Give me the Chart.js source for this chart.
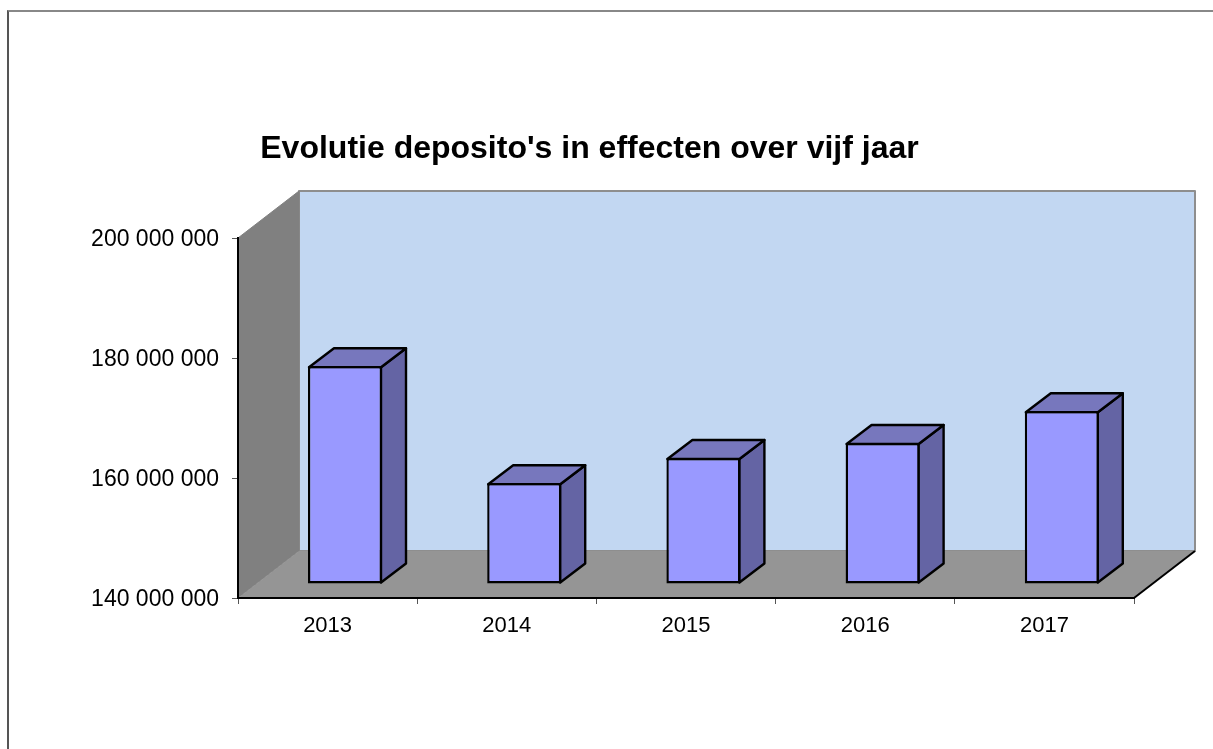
<!DOCTYPE html>
<html lang="nl">
<head>
    <meta charset="UTF-8">
    <title>Evolutie deposito's in effecten over vijf jaar</title>
    <script src="https://cdn.jsdelivr.net/npm/chart.js"></script>
    <style>
        html, body {
            margin: 0;
            padding: 0;
            background: white;
            overflow: hidden;
        }

        .frame {
            position: absolute;
            left: 7px;
            top: 10px;
            right: 0;
            bottom: 0;
            border-top: 2px solid #888;
            border-left: 2px solid #555;
        }

        canvas {
            position: absolute;
            left: 0;
            top: 0;
        }
    </style>
</head>
<body>
    <div class="frame"></div>
    <canvas id="chart" width="1213" height="749"></canvas>

    <script>
        const titleText = "Evolutie deposito's in effecten over vijf jaar";
        const years = ['2013', '2014', '2015', '2016', '2017'];
        const deposits = [176300000, 156800000, 161000000, 163500000, 168800000];
        const axisMin = 140000000;
        const axisMax = 200000000;
        const axisStep = 20000000;

        // depth of the fake 3D box and of the bars in it
        const wallDx = 61, wallDy = -47;
        const barShiftX = 17.4, barShiftY = -14;
        const barDepthX = 25, barDepthY = -19;
        const barLine = 2.4;

        function poly(ctx, pts, fill, stroke, lineWidth) {
            ctx.beginPath();
            pts.forEach((p, i) => i ? ctx.lineTo(p[0], p[1]) : ctx.moveTo(p[0], p[1]));
            ctx.closePath();
            if (fill) {
                ctx.fillStyle = fill;
                ctx.fill();
            }
            if (stroke) {
                ctx.strokeStyle = stroke;
                ctx.lineWidth = lineWidth;
                ctx.lineJoin = 'round';
                ctx.stroke();
            }
        }

        const box3d = {
            id: 'box3d',
            beforeDatasetsDraw(chart) {
                const ctx = chart.ctx;
                const a = chart.chartArea;
                ctx.save();

                // walls and floor
                poly(ctx, [[a.left + wallDx, a.top + wallDy], [a.right + wallDx, a.top + wallDy],
                    [a.right + wallDx, a.bottom + wallDy], [a.left + wallDx, a.bottom + wallDy]], '#C2D7F2', '#8E8E8E', 2);
                poly(ctx, [[a.left, a.top], [a.left + wallDx, a.top + wallDy],
                    [a.left + wallDx, a.bottom + wallDy], [a.left, a.bottom]], '#808080', '#808080', 1);
                poly(ctx, [[a.left, a.bottom], [a.left + wallDx, a.bottom + wallDy],
                    [a.right + wallDx, a.bottom + wallDy], [a.right, a.bottom]], '#959595');
                ctx.beginPath();
                ctx.moveTo(a.right, a.bottom);
                ctx.lineTo(a.right + wallDx, a.bottom + wallDy);
                ctx.strokeStyle = '#000';
                ctx.lineWidth = 2;
                ctx.stroke();

                // side and top of every bar
                chart.getDatasetMeta(0).data.forEach(bar => {
                    const l = bar.x - bar.width / 2 + barShiftX + 1;
                    const r = bar.x + bar.width / 2 + barShiftX - 1;
                    const t = bar.y + barShiftY + 1;
                    const b = bar.base + barShiftY - 1;
                    poly(ctx, [[r, t], [r + barDepthX, t + barDepthY], [r + barDepthX, b + barDepthY], [r, b]], '#6464A4', '#000', barLine);
                    poly(ctx, [[l, t], [l + barDepthX, t + barDepthY], [r + barDepthX, t + barDepthY], [r, t]], '#7777BD', '#000', barLine);
                });

                // front faces are drawn by Chart.js, moved into the box
                ctx.translate(barShiftX, barShiftY);
            },
            afterDatasetsDraw(chart) {
                chart.ctx.restore();
            }
        };

        new Chart(document.getElementById('chart'), {
            type: 'bar',
            data: {
                labels: years,
                datasets: [{
                    data: deposits,
                    base: axisMin,
                    backgroundColor: '#9999FF',
                    borderColor: '#000',
                    borderWidth: barLine,
                    borderSkipped: false,
                    inflateAmount: 0,
                    barPercentage: 0.413,
                    categoryPercentage: 1,
                    clip: false
                }]
            },
            options: {
                responsive: false,
                animation: false,
                layout: {
                    padding: { left: 45, right: 79, top: 100, bottom: 100 }
                },
                plugins: {
                    legend: { display: false },
                    tooltip: { enabled: false },
                    title: {
                        display: true,
                        text: titleText,
                        color: '#000',
                        font: { family: 'Liberation Sans', size: 32, weight: 'bold' },
                        padding: { top: 30, bottom: 69.6 }
                    }
                },
                scales: {
                    x: {
                        afterFit: scale => { scale.height = 51; },
                        border: { color: '#000', width: 2, z: 1 },
                        grid: { drawOnChartArea: false, color: '#555', tickLength: 6, lineWidth: 1, z: 1 },
                        ticks: {
                            color: '#000',
                            padding: 9,
                            maxRotation: 0,
                            font: { family: 'Liberation Sans', size: 22 }
                        }
                    },
                    y: {
                        min: axisMin,
                        max: axisMax,
                        afterFit: scale => { scale.width = 193; },
                        border: { color: '#000', width: 2, z: 1 },
                        grid: { drawOnChartArea: false, color: '#555', tickLength: 6, lineWidth: 1, z: 1 },
                        ticks: {
                            stepSize: axisStep,
                            color: '#000',
                            padding: 13,
                            labelOffset: 2,
                            font: { family: 'Liberation Sans', size: 23 },
                            callback: value => String(value).replace(/\B(?=(\d{3})+$)/g, ' ')
                        }
                    }
                }
            },
            plugins: [box3d]
        });
    </script>
</body>
</html>
